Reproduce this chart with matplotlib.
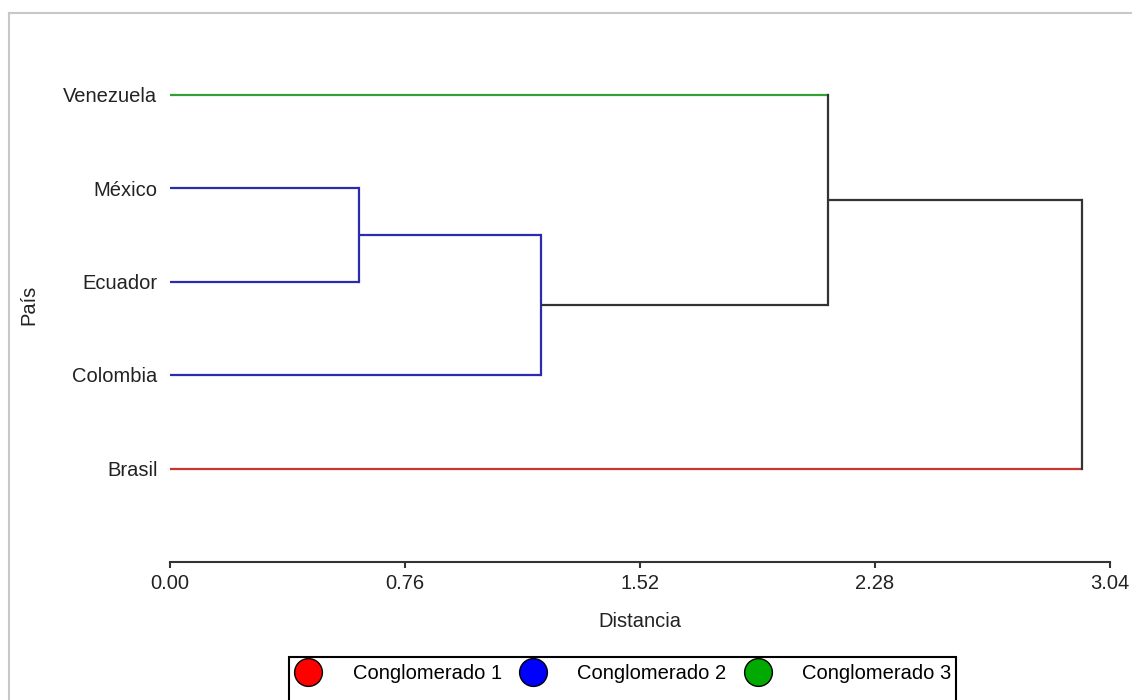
import numpy as np
import matplotlib.pyplot as plt
from matplotlib.lines import Line2D
from matplotlib.patches import Rectangle

plt.rcParams['font.family'] = ['Liberation Sans', 'DejaVu Sans']

# leaves, bottom to top
paises = ['Brasil', 'Colombia', 'Ecuador', 'México', 'Venezuela']
grupo = [1, 2, 2, 2, 3]
# merges: (left node, right node, distance); nodes 0-4 are leaves, 5+ new clusters
uniones = [(3, 2, 0.611), (5, 1, 1.200), (4, 6, 2.128), (7, 0, 2.950)]
ticks = [0.00, 0.76, 1.52, 2.28, 3.04]
colores_linea = {1: '#cc3333', 2: '#2b2bb0', 3: '#33a033', 0: '#333333'}
colores_leyenda = ['#ff0000', '#0000ff', '#00aa00']
nombres_leyenda = ['Conglomerado 1', 'Conglomerado 2', 'Conglomerado 3']

fs = 14.5
fig = plt.figure(figsize=(11.32, 7), dpi=100)
ax = fig.add_axes([170/1132, 1-562/700, 940/1132, 5.5*93.5/700])

# node positions (y), heights (x) and cluster of each node
n = len(paises)
ypos = list(range(1, n+1))
alt = [0.0]*n
clus = list(grupo)
for a, b, d in uniones:
    c = clus[a] if clus[a] == clus[b] else 0
    col = colores_linea[c]
    for h in (a, b):
        hc = colores_linea[clus[h]] if h < n else col
        ax.plot([alt[h], d], [ypos[h], ypos[h]], color=hc, lw=1.6, solid_capstyle='butt')
    ax.plot([d, d], [ypos[a], ypos[b]], color=col, lw=1.6, solid_capstyle='projecting')
    ypos.append((ypos[a]+ypos[b])/2)
    alt.append(d)
    clus.append(c)

ax.set_xlim(0, 3.04)
ax.set_ylim(0, 5.5)
ax.set_xticks(ticks)
ax.set_xticklabels(['%.2f' % t for t in ticks], fontsize=fs, color='#222222')
ax.set_yticks(range(1, n+1))
ax.set_yticklabels(paises, fontsize=fs, color='#222222')
ax.tick_params(axis='y', length=0, pad=9)
ax.tick_params(axis='x', length=4.5, width=1.5, pad=4, color='#333333')
for s in ['top', 'right', 'left']:
    ax.spines[s].set_visible(False)
ax.spines['bottom'].set_linewidth(1.5)
ax.spines['bottom'].set_color('#333333')
ax.spines['bottom'].set_bounds(0, 3.04)
ax.set_xlabel('Distancia', fontsize=fs, color='#222222', labelpad=14)
ax.set_ylabel('País', fontsize=fs, color='#222222', labelpad=18)

# light outer frame
fig.add_artist(Line2D([9/1132, 1], [1-13/700, 1-13/700], color='#c8c8c8', lw=1.5))
fig.add_artist(Line2D([9/1132, 9/1132], [0, 1-13/700], color='#c8c8c8', lw=1.5))

handles = [Line2D([], [], marker='o', ls='none', markersize=20, markerfacecolor=c,
                  markeredgecolor='black', markeredgewidth=1) for c in colores_leyenda]
leg = fig.legend(handles, nombres_leyenda, loc='upper center', bbox_to_anchor=(0.550, 1-659/700),
                 ncol=3, fontsize=fs, frameon=False,
                 handlelength=1.4, handletextpad=1.5, columnspacing=0.85, borderpad=0.25,
                 borderaxespad=0)

# legend box runs past the bottom edge, as in the original
fig.canvas.draw()
bb = leg.get_window_extent().transformed(fig.transFigure.inverted())
fig.add_artist(Rectangle((bb.x0, -0.05), bb.width, bb.y1 + 0.05 + 2/700, fill=False,
                         edgecolor='black', lw=1.5, transform=fig.transFigure))

fig.savefig('out.png', dpi=100)
